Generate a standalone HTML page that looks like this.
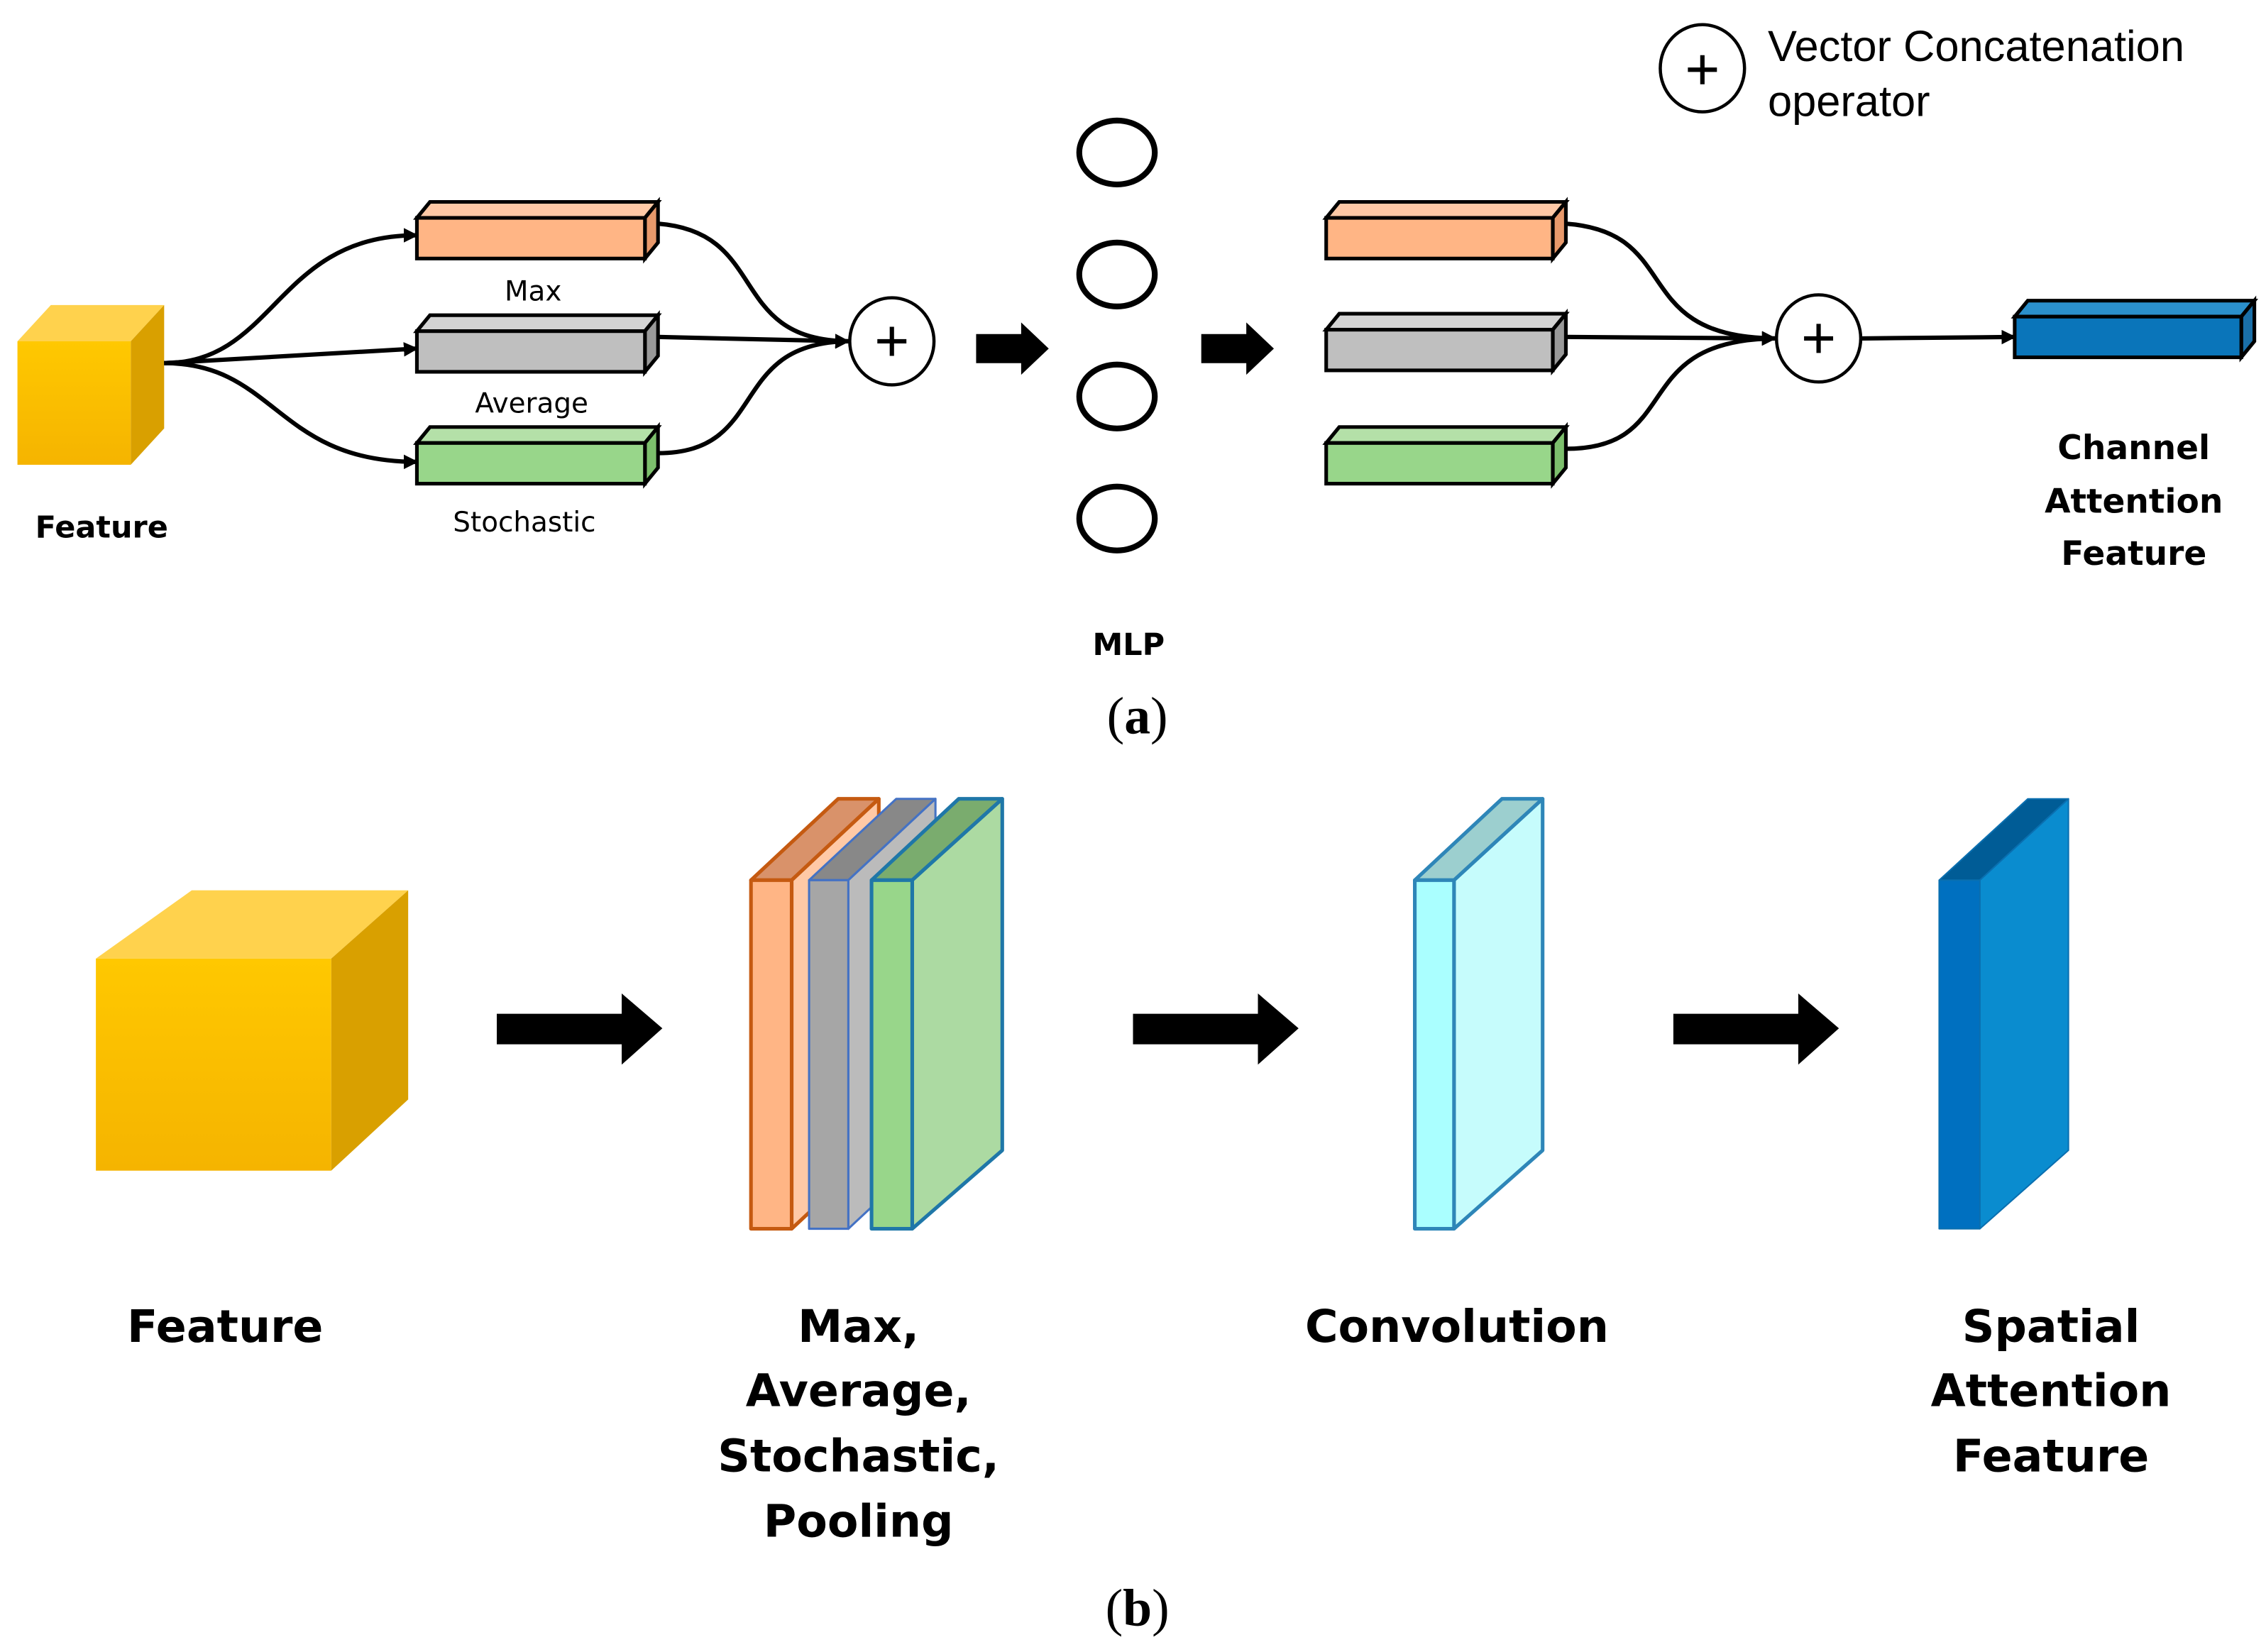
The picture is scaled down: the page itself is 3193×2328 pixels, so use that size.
<!DOCTYPE html>
<html><head><meta charset="utf-8"><style>html,body{margin:0;padding:0;background:#fff}svg{display:block}</style></head>
<body>
<svg width="3193" height="2328" viewBox="0 0 1560 1137.4" xmlns="http://www.w3.org/2000/svg">
<defs>
<marker id="ah" markerWidth="10" markerHeight="10" refX="9" refY="5" orient="auto" markerUnits="userSpaceOnUse"><path d="M0,0 L10,5 L0,10 Z" fill="#000"/></marker>
<linearGradient id="gy" x1="0" y1="0" x2="0" y2="1"><stop offset="0" stop-color="#ffc800"/><stop offset="1" stop-color="#f5b400"/></linearGradient>
</defs>
<rect width="1560" height="1138" fill="#fff"/>
<!-- top feature cube -->
<polygon points="12,235 35,210 113,210 90,235" fill="#ffd24d"/>
<polygon points="90,235 113,210 113,295 90,320" fill="#d9a000"/>
<rect x="12" y="235" width="78" height="85" fill="url(#gy)"/>
<text x="70" y="370" font-family="DejaVu Sans" font-weight="bold" font-size="21" text-anchor="middle">Feature</text>
<!-- bars helper -->
<g stroke="#000" stroke-width="2.5">
<polygon points="287,150 296,139 453,139 444,150" fill="#ffc9a6"/><polygon points="444,150 453,139 453,167 444,178" fill="#e8996b"/><rect x="287" y="150" width="157" height="28" fill="#ffb585"/>
<polygon points="287,228 296,217 453,217 444,228" fill="#d3d3d3"/><polygon points="444,228 453,217 453,245 444,256" fill="#999"/><rect x="287" y="228" width="157" height="28" fill="#bfbfbf"/>
<polygon points="287,305 296,294 453,294 444,305" fill="#b4e0a8"/><polygon points="444,305 453,294 453,322 444,333" fill="#7cbf6c"/><rect x="287" y="305" width="157" height="28" fill="#98d68a"/>

<polygon points="913,150 922,139 1078,139 1069,150" fill="#ffc9a6"/><polygon points="1069,150 1078,139 1078,167 1069,178" fill="#e8996b"/><rect x="913" y="150" width="156" height="28" fill="#ffb585"/>
<polygon points="913,227 922,216 1078,216 1069,227" fill="#d3d3d3"/><polygon points="1069,227 1078,216 1078,244 1069,255" fill="#999"/><rect x="913" y="227" width="156" height="28" fill="#bfbfbf"/>
<polygon points="913,305 922,294 1078,294 1069,305" fill="#b4e0a8"/><polygon points="1069,305 1078,294 1078,322 1069,333" fill="#7cbf6c"/><rect x="913" y="305" width="156" height="28" fill="#98d68a"/>

<polygon points="1387,218 1396,207 1552,207 1543,218" fill="#2b90cc"/><polygon points="1543,218 1552,207 1552,235 1543,246" fill="#1a6fa8"/><rect x="1387" y="218" width="156" height="28" fill="#0a75ba"/>
</g>
<text x="367" y="207" font-family="DejaVu Sans" font-size="19" text-anchor="middle">Max</text>
<text x="366" y="284" font-family="DejaVu Sans" font-size="19" text-anchor="middle">Average</text>
<text x="361" y="366" font-family="DejaVu Sans" font-size="19" text-anchor="middle">Stochastic</text>
<!-- curves left -->
<g fill="none" stroke="#000" stroke-width="3" marker-end="url(#ah)">
<path d="M113,250 C190,250 190,162 287,162"/>
<path d="M113,250 L287,240"/>
<path d="M113,250 C190,250 190,318 287,318"/>
<path d="M453,154 C530,160 500,234 584,235"/>
<path d="M453,232 L584,235"/>
<path d="M453,312 C530,312 500,236 584,235"/>
<path d="M1078,154 C1160,160 1120,232 1222,233"/>
<path d="M1078,232 L1222,233"/>
<path d="M1078,309 C1160,309 1120,234 1222,233"/>
<path d="M1282,233 L1387,232"/>
</g>
<g fill="#fff" stroke="#000" stroke-width="2.2">
<ellipse cx="614" cy="235" rx="29" ry="30"/>
<ellipse cx="1252" cy="233" rx="29" ry="30"/>
<ellipse cx="1172" cy="47" rx="29" ry="30"/>
</g>
<g stroke="#000" stroke-width="3">
<path d="M604,235 h20 M614,225 v20"/><path d="M1242,233 h20 M1252,223 v20"/><path d="M1162,48 h20 M1172,38 v20"/>
</g>
<text x="1217" y="42" font-family="Liberation Sans" font-size="30">Vector Concatenation</text>
<text x="1217" y="80" font-family="Liberation Sans" font-size="30">operator</text>
<!-- small arrows -->
<polygon points="672,230 703,230 703,222 722,240 703,258 703,250 672,250" fill="#000"/>
<polygon points="827,230 858,230 858,222 877,240 858,258 858,250 827,250" fill="#000"/>
<g fill="none" stroke="#000" stroke-width="4">
<ellipse cx="769" cy="105" rx="26" ry="22"/><ellipse cx="769" cy="189" rx="26" ry="22"/><ellipse cx="769" cy="273" rx="26" ry="22"/><ellipse cx="769" cy="357" rx="26" ry="22"/>
</g>
<text x="777" y="451" font-family="DejaVu Sans" font-weight="bold" font-size="21" text-anchor="middle">MLP</text>
<g font-family="DejaVu Sans" font-weight="bold" font-size="23" text-anchor="middle">
<text x="1469" y="316">Channel</text><text x="1469" y="353">Attention</text><text x="1469" y="389">Feature</text>
</g>
<text x="783" y="505" font-family="Liberation Serif" font-size="36" text-anchor="middle">(<tspan font-weight="bold">a</tspan>)</text>
<!-- bottom cube -->
<polygon points="66,660 132,613 281,613 228,660" fill="#ffd24d"/>
<polygon points="228,660 281,613 281,757 228,806" fill="#d9a000"/>
<rect x="66" y="660" width="162" height="146" fill="url(#gy)"/>
<!-- big arrows -->
<polygon points="342,698 428,698 428,684 456,708 428,733 428,719 342,719" fill="#000"/>
<polygon points="780,698 866,698 866,684 894,708 866,733 866,719 780,719" fill="#000"/>
<polygon points="1152,698 1238,698 1238,684 1266,708 1238,733 1238,719 1152,719" fill="#000"/>
<!-- slabs -->
<g stroke-width="2.5" stroke-linejoin="round">
<polygon points="517,606 577,550 605,550 545,606" fill="#d9926a" stroke="#c55a11"/>
<polygon points="545,606 605,550 605,790 545,846" fill="#ffc9a6" stroke="#c55a11"/>
<rect x="517" y="606" width="28" height="240" fill="#ffb585" stroke="#c55a11"/>
<polygon points="557,606 617,550 644,550 584,606" fill="#888" stroke="#4472c4" stroke-width="1.5"/>
<polygon points="584,606 644,550 644,790 584,846" fill="#bbb" stroke="#4472c4" stroke-width="1.5"/>
<rect x="557" y="606" width="27" height="240" fill="#a6a6a6" stroke="#4472c4" stroke-width="1.5"/>
<polygon points="600,606 660,550 690,550 628,606" fill="#7aac6e" stroke="#1f77a8"/>
<polygon points="628,606 690,550 690,792 628,846" fill="#acdaa2" stroke="#1f77a8"/>
<rect x="600" y="606" width="28" height="240" fill="#98d68a" stroke="#1f77a8"/>
<polygon points="974,606 1034,550 1062,550 1001,606" fill="#9ccfcf" stroke="#2e86b8"/>
<polygon points="1001,606 1062,550 1062,792 1001,846" fill="#c6fcfc" stroke="#2e86b8"/>
<rect x="974" y="606" width="27" height="240" fill="#aaffff" stroke="#2e86b8"/>
<polygon points="1335,606 1396,550 1424,550 1363,606" fill="#005c96" stroke="#0a6fb0" stroke-width="1"/>
<polygon points="1363,606 1424,550 1424,792 1363,846" fill="#0a8ccf" stroke="#0a6fb0" stroke-width="1"/>
<rect x="1335" y="606" width="28" height="240" fill="#0070c0" stroke="#0a6fb0" stroke-width="1"/>
</g>
<g font-family="DejaVu Sans" font-weight="bold" font-size="31" text-anchor="middle">
<text x="155" y="924">Feature</text>
<text x="591" y="924">Max,</text><text x="591" y="968">Average,</text><text x="591" y="1013">Stochastic,</text><text x="591" y="1058">Pooling</text>
<text x="1003" y="924">Convolution</text>
<text x="1412" y="924">Spatial</text><text x="1412" y="968">Attention</text><text x="1412" y="1013">Feature</text>
</g>
<text x="783" y="1119" font-family="Liberation Serif" font-size="36" text-anchor="middle">(<tspan font-weight="bold">b</tspan>)</text>
</svg>
</body></html>
